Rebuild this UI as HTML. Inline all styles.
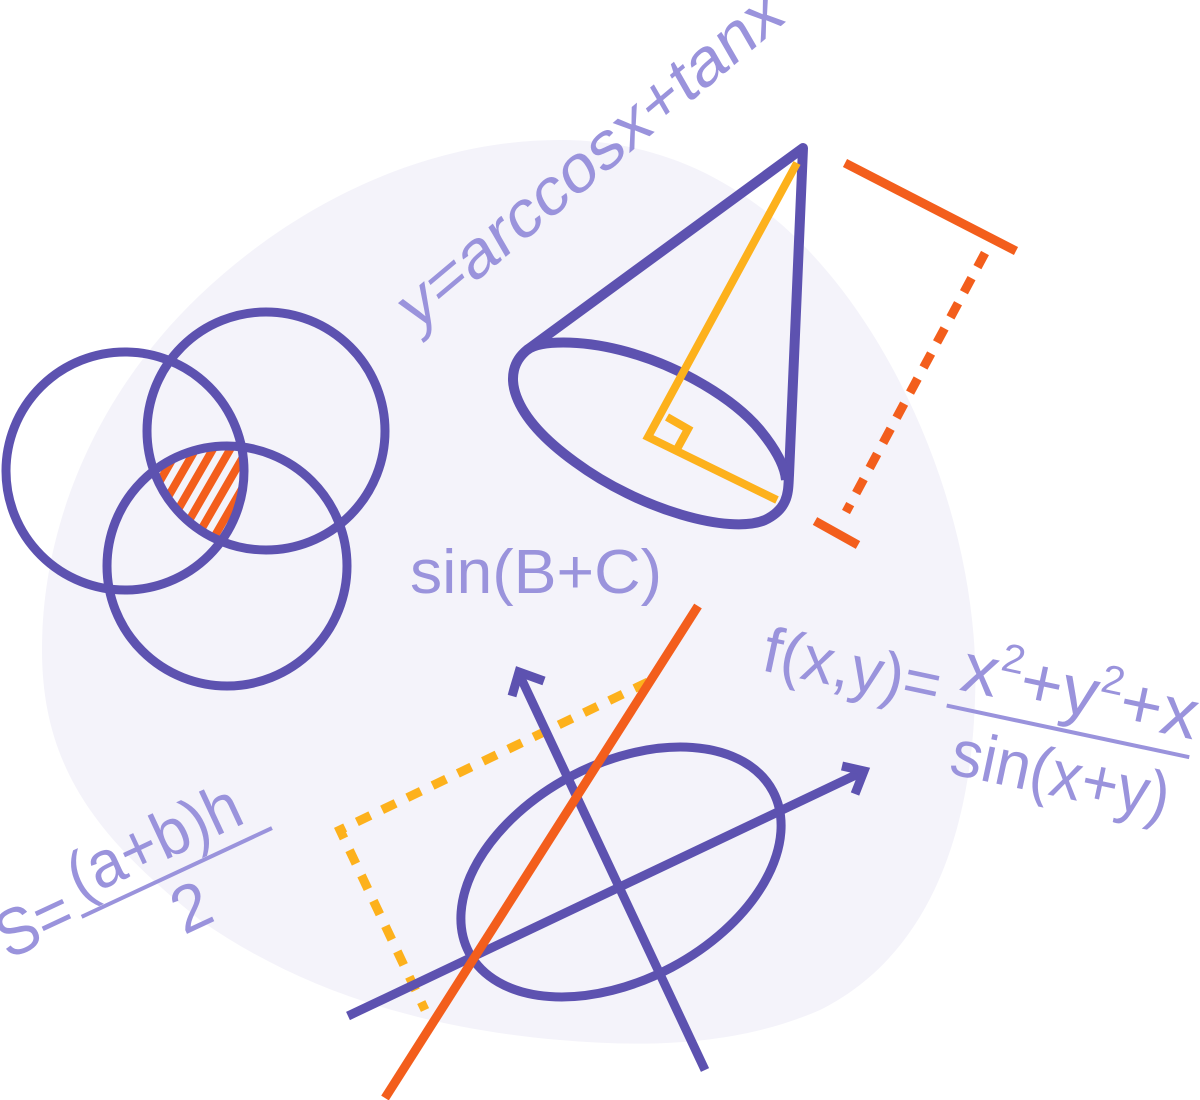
<!DOCTYPE html>
<html><head><meta charset="utf-8"><style>
html,body{margin:0;padding:0;background:#fff;}
svg{display:block;}
text{font-family:"Liberation Sans",sans-serif;fill:#9a93dc;}
</style></head><body>
<svg width="1200" height="1100" viewBox="0 0 1200 1100" xmlns="http://www.w3.org/2000/svg">
<defs>
<clipPath id="cA"><circle cx="125" cy="471" r="119"/></clipPath>
<clipPath id="cB"><circle cx="266" cy="431" r="119"/></clipPath>
<clipPath id="cC"><circle cx="227" cy="566" r="120"/></clipPath>
<pattern id="hatch" patternUnits="userSpaceOnUse" width="15" height="15" patternTransform="rotate(30)">
<rect width="15" height="15" fill="#f4f3fa"/>
<rect width="8" height="15" fill="#f35e1c"/>
</pattern>
</defs>
<path d="M42,650 C42,520 100,390 200,295 C300,200 430,140 560,140 C700,140 800,220 870,330 C940,440 980,580 975,700 C970,850 920,960 820,1010 C740,1045 650,1048 560,1040 C420,1028 300,990 200,920 C100,840 42,770 42,650 Z" fill="#f4f3fa"/>

<g clip-path="url(#cA)"><g clip-path="url(#cB)"><g clip-path="url(#cC)">
<rect x="100" y="400" width="200" height="200" fill="url(#hatch)"/>
</g></g></g>
<g fill="none" stroke="#5d52b0" stroke-width="9">
<circle cx="125" cy="471" r="119"/>
<circle cx="266" cy="431" r="119"/>
<circle cx="227" cy="566" r="120"/>
</g>

<g fill="none" stroke="#5d52b0" stroke-width="10" stroke-linejoin="round">
<path d="M803,148 L527,350 C500,372 510,415 575,462 C640,510 730,535 765,520 C790,508 788,490 789,475 Z"/>
<path d="M527,350 C540,340 580,340 620,350 C680,365 735,400 760,430 C778,452 785,468 786,480"/>
</g>
<g fill="none" stroke="#fdb11c" stroke-width="8">
<polyline points="797,163 648,437 777,500"/>
<polyline points="667,417 688,429 676,451"/>
</g>
<g stroke="#f35e1c" stroke-width="9" fill="none">
<line x1="845" y1="163" x2="1016" y2="251"/>
<line x1="985" y1="253" x2="846" y2="512" stroke-dasharray="16,12.5"/>
<line x1="815" y1="521" x2="858" y2="545"/>
</g>

<g fill="none" stroke="#fdb11c" stroke-width="9" stroke-dasharray="15,13">
<polyline points="648,682 340,830 425,1010"/>
</g>
<g fill="none" stroke="#5d52b0" stroke-width="9">
<ellipse cx="621" cy="872" rx="172" ry="108" transform="rotate(-28 621 872)"/>
<line x1="348" y1="1016" x2="862" y2="772"/>
<polyline points="842,766 864,771 855,794"/>
<line x1="705" y1="1070" x2="520" y2="676"/>
<polyline points="512,696 519,672 544,681"/>
</g>
<line x1="698" y1="606" x2="385" y2="1098" stroke="#f35e1c" stroke-width="9"/>

<text x="410" y="593" font-size="62" textLength="252" lengthAdjust="spacingAndGlyphs">sin(B+C)</text>
<text transform="translate(415,333) rotate(-40) skewX(-10)" font-size="64" textLength="485" lengthAdjust="spacingAndGlyphs">y=arccosx+tanx</text>

<g transform="translate(760,670) rotate(12)">
<text x="0" y="0" font-size="64" textLength="180" lengthAdjust="spacingAndGlyphs">f(x,y)=</text>
<text x="198" y="-22" font-size="70" textLength="240" lengthAdjust="spacingAndGlyphs">x<tspan font-size="40" dy="-28">2</tspan><tspan dy="28">+y</tspan><tspan font-size="40" dy="-28">2</tspan><tspan dy="28">+x</tspan></text>
<rect x="190" y="-6" width="248" height="4" fill="#9a93dc"/>
<text x="205" y="62" font-size="66" textLength="222" lengthAdjust="spacingAndGlyphs">sin(x+y)</text>
</g>

<g transform="translate(8,960) rotate(-25)">
<text x="0" y="0" font-size="66" textLength="78" lengthAdjust="spacingAndGlyphs">S=</text>
<text x="90" y="-24" font-size="66" textLength="185" lengthAdjust="spacingAndGlyphs">(a+b)h</text>
<rect x="85" y="-10" width="210" height="4" fill="#9a93dc"/>
<text x="170" y="52" font-size="66">2</text>
</g>
</svg>
</body></html>
